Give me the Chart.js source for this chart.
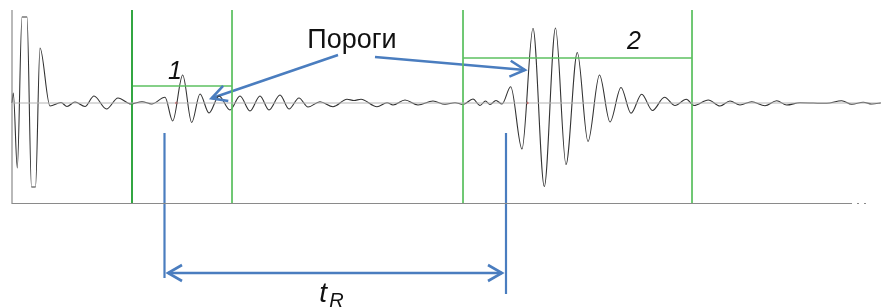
<!DOCTYPE html>
<html>
<head>
<meta charset="utf-8">
<script src="https://cdn.jsdelivr.net/npm/chart.js@4"></script>
<style>
  html, body { margin: 0; padding: 0; background: #fff; }
  canvas { display: block; }
</style>
</head>
<body>
<canvas id="wave" width="882" height="308"></canvas>
<script>
// ---------------- data ----------------
// time in samples, amplitude in arbitrary units (0 = baseline)
const sampleT = [0, 1.3, 5.3, 10, 15, 19.5, 23.5, 28, 38, 49, 55, 63, 73, 82, 94.5, 106, 119, 130, 139.7,
  153, 160.7, 170.7, 179.7, 188, 197, 207, 218, 228, 238, 248, 257, 268, 277, 287, 296, 308, 321, 335, 342,
  349, 365, 375, 381, 393, 406, 421, 433, 443, 451, 461, 468, 473.5, 478, 484, 490, 498.7, 510, 521, 532.3,
  543.5, 554, 565.3, 576, 587.5, 598, 609, 619, 629.7, 640.5, 652.5, 663, 674.3, 682, 696.3, 708, 718, 728,
  739.7, 753, 764.7, 774.7, 788, 814.7, 829.7, 839.7, 851.3, 859.7, 870];
const amplitude = [0, 10, -65, 86, 86, -84, -84, 55, -3, 0.5, -3.5, 1, -3.5, 7, -6, 5, -1, 1.3, -1,
  5.7, -18, 28, -19.5, 9, -10, 7, -7, 7, -8, 7, -7, 8, -6, 5, -4, 1.3, -3.7, 3.7, 2.5,
  3.7, -3.7, 0.3, -2, 3, -2, 2, -1.3, 0.3, -1.5, 4, -2.5, 2, -1.5, 2.5, -1, 16.3, -46, 74.7, -83.5,
  75, -61.5, 50.5, -38.5, 28, -19, 15.5, -10.3, 8.8, -7.5, 5.7, -2.5, 3.7, -2.5, 3, -3, 2, -2,
  1.3, -2.7, 2.3, -2, 0.3, -0.3, 2.3, -1.3, 0.7, -1, 0.3];

// gates (start, end) and thresholds of the two windows
const gateStart = [120, 451];
const gateEnd = [220, 680];
const thresholds = [17, 45];
const gateTop = 93, gateBottom = -101;

// first-arrival markers (red dots)
const arrivalT = [164.5, 515.3];

// arrival time lines and tR arrow
const markerT = [152.5, 494];
const markerTop = -30;
const markerBottom = [-175, -191];
const tRLevel = -170;

// labels
const labelText = ['Пороги', '1', '2'];
const labelT = [340, 163, 622];
const labelA = [62, 31, 61];

// arrows from "Пороги" to the thresholds
const arrowFromT = [326, 363], arrowFromA = [48, 46];
const arrowToT = [199.5, 513], arrowToA = [4.7, 33];

// axis ends
const axisEndT = 838, axisDashEndT = 858;

const BLUE = '#4a7dbf';
const GREEN = '#5cc060';
// chart.js keeps half the widest border as padding round the plot
const EDGE = 1.3;

const wavePoints = sampleT.map((t, i) => ({ x: t, y: amplitude[i] }));

function seg(x1, y1, x2, y2) {
  return [{ x: x1, y: y1 }, { x: x2, y: y2 }];
}

function lineSet(data, color, width, extra) {
  return Object.assign({
    data: data,
    borderColor: color,
    borderWidth: width,
    pointRadius: 0,
    pointHoverRadius: 0,
    pointBorderWidth: 0,
    tension: 0,
    fill: false
  }, extra || {});
}

const datasets = [
  // baseline
  lineSet(seg(0, 0, 870, 0), '#b4b4b4', 1),
  // axes
  lineSet([{ x: 0, y: gateTop }, { x: 0, y: gateBottom + 0.5 }, { x: axisEndT, y: gateBottom + 0.5 }], '#8a8a8a', 1.2),
  lineSet(seg(axisEndT, gateBottom + 0.5, axisDashEndT, gateBottom + 0.5), '#8a8a8a', 1, { borderDash: [2, 5] }),
  // gate lines
  lineSet(seg(gateStart[0], gateTop, gateStart[0], gateBottom), '#33a642', 2),
  lineSet(seg(gateEnd[0], gateTop, gateEnd[0], gateBottom), GREEN, 1),
  lineSet(seg(gateStart[1], gateTop, gateStart[1], gateBottom), GREEN, 1),
  lineSet(seg(gateEnd[1], gateTop, gateEnd[1], gateBottom), GREEN, 1),
  lineSet(seg(gateStart[0], thresholds[0], gateEnd[0], thresholds[0]), GREEN, 1.3),
  lineSet(seg(gateStart[1], thresholds[1], gateEnd[1], thresholds[1]), GREEN, 1.3),
  // waveform
  lineSet(wavePoints, '#333333', 1.1, { cubicInterpolationMode: 'monotone' }),
  // arrival dots
  {
    type: 'scatter',
    data: arrivalT.map(t => ({ x: t, y: 0 })),
    pointRadius: 1.3,
    pointHoverRadius: 0,
    pointBackgroundColor: '#e02020',
    pointBorderWidth: 0
  },
  // arrival time markers + tR
  lineSet(seg(markerT[0], markerTop, markerT[0], markerBottom[0]), BLUE, 2.2),
  lineSet(seg(markerT[1], markerTop, markerT[1], markerBottom[1]), BLUE, 2.2),
  lineSet(seg(markerT[0] + 3.5, tRLevel, markerT[1] - 4, tRLevel), BLUE, 2.6),
  // arrows to thresholds
  lineSet(seg(arrowFromT[0], arrowFromA[0], arrowToT[0], arrowToA[0]), BLUE, 2.6),
  lineSet(seg(arrowFromT[1], arrowFromA[1], arrowToT[1], arrowToA[1]), BLUE, 2.6)
];

// open arrow heads and text labels
function arrowHead(ctx, x1, y1, x2, y2, len, half) {
  const ang = Math.atan2(y2 - y1, x2 - x1);
  ctx.beginPath();
  ctx.moveTo(x2 - len * Math.cos(ang) + half * Math.sin(ang), y2 - len * Math.sin(ang) - half * Math.cos(ang));
  ctx.lineTo(x2, y2);
  ctx.lineTo(x2 - len * Math.cos(ang) - half * Math.sin(ang), y2 - len * Math.sin(ang) + half * Math.cos(ang));
  ctx.stroke();
}

const annotations = {
  id: 'annotations',
  afterDatasetsDraw(chart) {
    const { ctx, scales: { x, y } } = chart;
    ctx.save();
    ctx.strokeStyle = BLUE;
    ctx.lineWidth = 2.6;
    ctx.lineJoin = 'miter';
    for (let i = 0; i < arrowFromT.length; i++) {
      arrowHead(ctx, x.getPixelForValue(arrowFromT[i]), y.getPixelForValue(arrowFromA[i]),
        x.getPixelForValue(arrowToT[i]), y.getPixelForValue(arrowToA[i]), 15, 8);
    }
    const yr = y.getPixelForValue(tRLevel);
    const xl = x.getPixelForValue(markerT[0] + 3.5), xr = x.getPixelForValue(markerT[1] - 4);
    arrowHead(ctx, xr, yr, xl, yr, 14, 8);
    arrowHead(ctx, xl, yr, xr, yr, 14, 8);

    ctx.fillStyle = '#111';
    ctx.textAlign = 'center';
    ctx.textBaseline = 'middle';
    ctx.font = '27px "Liberation Sans", Arial, sans-serif';
    ctx.fillText(labelText[0], x.getPixelForValue(labelT[0]), y.getPixelForValue(labelA[0]));
    ctx.font = 'italic 25px "Liberation Sans", Arial, sans-serif';
    ctx.fillText(labelText[1], x.getPixelForValue(labelT[1]), y.getPixelForValue(labelA[1]));
    ctx.font = 'italic 25px "Liberation Sans", Arial, sans-serif';
    ctx.fillText(labelText[2], x.getPixelForValue(labelT[2]), y.getPixelForValue(labelA[2]));

    // t_R label below the arrow
    const xm = (x.getPixelForValue(markerT[0]) + x.getPixelForValue(markerT[1])) / 2;
    ctx.textAlign = 'left';
    ctx.textBaseline = 'alphabetic';
    ctx.font = 'italic 28px "Liberation Sans", Arial, sans-serif';
    ctx.fillText('t', xm - 16, yr + 29);
    ctx.font = 'italic 20px "Liberation Sans", Arial, sans-serif';
    ctx.fillText('R', xm - 6, yr + 34);
    ctx.restore();
  }
};

new Chart(document.getElementById('wave'), {
  type: 'line',
  data: { datasets: datasets },
  options: {
    responsive: false,
    animation: false,
    events: [],
    layout: { padding: 0 },
    plugins: { legend: { display: false }, tooltip: { enabled: false } },
    scales: {
      x: { type: 'linear', min: -12 + EDGE, max: 870 - EDGE, display: false },
      y: { type: 'linear', min: -205 + EDGE, max: 103 - EDGE, display: false }
    }
  },
  plugins: [annotations]
});
</script>
</body>
</html>
